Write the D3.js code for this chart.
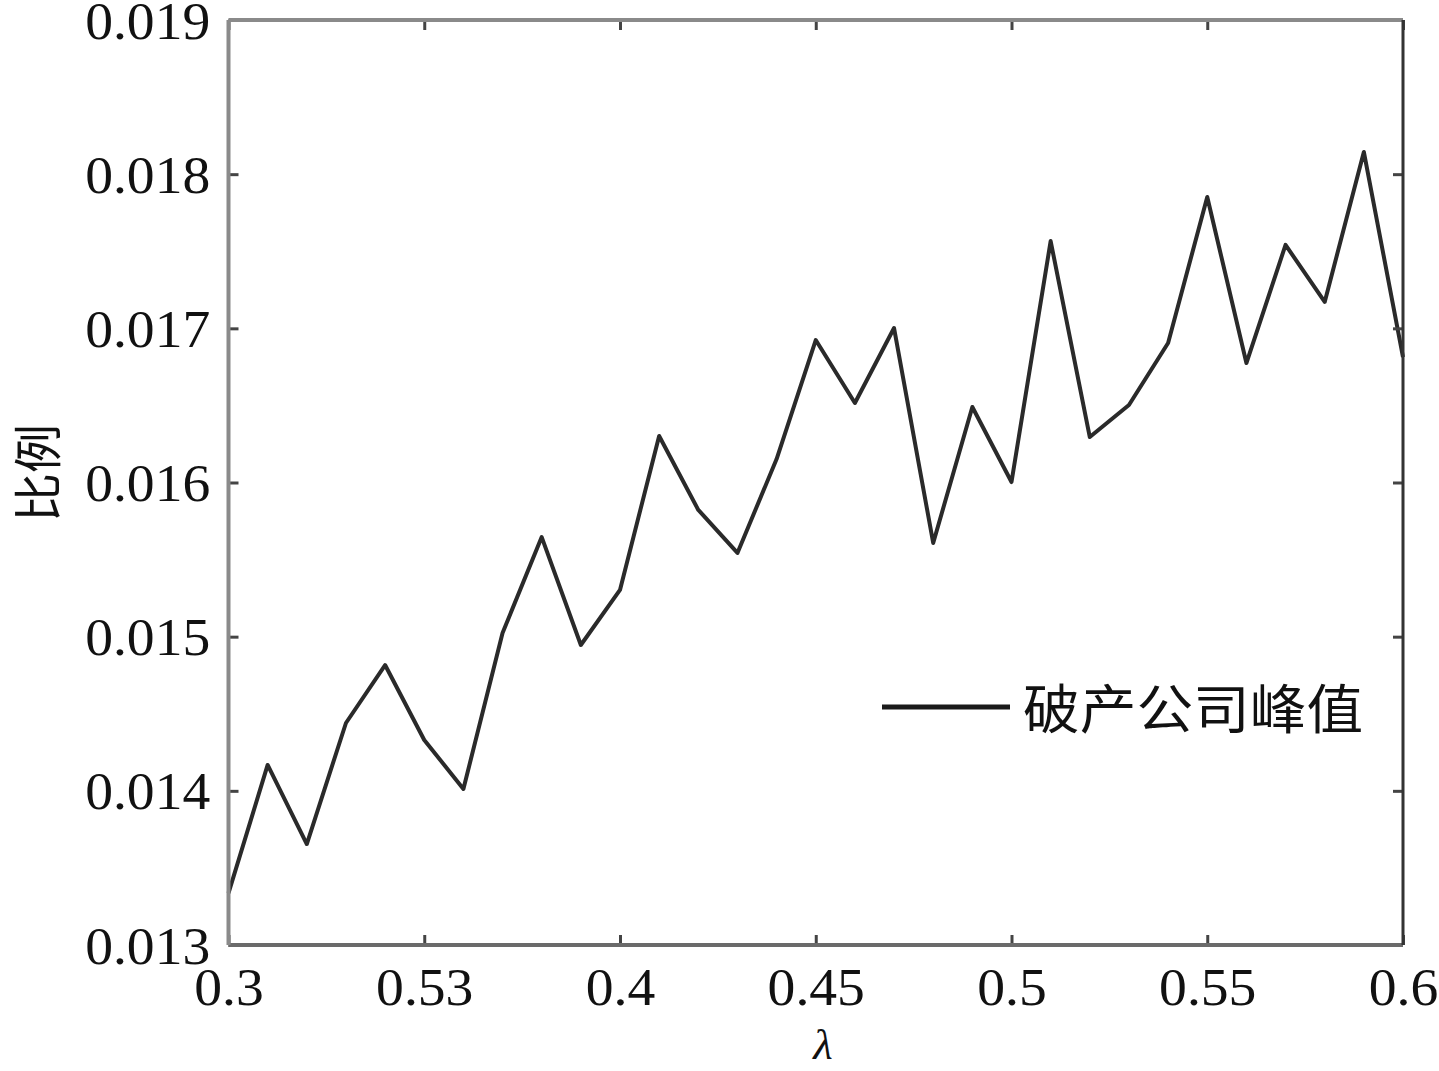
<!DOCTYPE html>
<html>
<head>
<meta charset="utf-8">
<script src="https://cdn.jsdelivr.net/npm/d3@7"></script>
<style>
  html, body { margin: 0; padding: 0; background: #fff; }
  svg { display: block; }
</style>
</head>
<body>
<svg id="chart" width="1439" height="1071"></svg>
<script>
// ---- data ----
const lambdaValues = [0.30, 0.31, 0.32, 0.33, 0.34, 0.35, 0.36, 0.37, 0.38, 0.39, 0.40,
                      0.41, 0.42, 0.43, 0.44, 0.45, 0.46, 0.47, 0.48, 0.49, 0.50,
                      0.51, 0.52, 0.53, 0.54, 0.55, 0.56, 0.57, 0.58, 0.59, 0.60];
const peakRatio = [0.013337, 0.014168, 0.013655, 0.014440, 0.014816, 0.014330, 0.014012,
                   0.015024, 0.015646, 0.014946, 0.015303, 0.016302, 0.015822, 0.015543,
                   0.016152, 0.016924, 0.016516, 0.017002, 0.015608, 0.016490, 0.016003,
                   0.017566, 0.016295, 0.016503, 0.016905, 0.017852, 0.016775, 0.017541,
                   0.017171, 0.018144, 0.016814];
const xTickValues = [0.30, 0.35, 0.40, 0.45, 0.50, 0.55, 0.60];
const xTickLabels = ["0.3", "0.53", "0.4", "0.45", "0.5", "0.55", "0.6"];
const yTickValues = [0.013, 0.014, 0.015, 0.016, 0.017, 0.018, 0.019];
const yTickLabels = ["0.013", "0.014", "0.015", "0.016", "0.017", "0.018", "0.019"];
const seriesName = "破产公司峰值";
const xAxisTitle = "λ";
const yAxisTitle = "比例";

// ---- layout ----
const svg = d3.select("#chart");
const pLeft = 228.5, pRight = 1403, pTop = 20, pBottom = 945;
const x = d3.scaleLinear().domain([0.3, 0.6]).range([pLeft, pRight]);
const y = d3.scaleLinear().domain([0.013, 0.019]).range([pBottom, pTop]);
const serif = "'Liberation Serif', 'DejaVu Serif', serif";
const stretch = "scale(1.07,1)";

// data line
const line = d3.line().x((d, i) => x(lambdaValues[i])).y(d => y(d));
svg.append("path")
  .datum(peakRatio)
  .attr("d", line)
  .attr("fill", "none")
  .attr("stroke", "#2a2a2a")
  .attr("stroke-width", 4)
  .attr("stroke-linejoin", "round");

// axes (ticks inward, on all sides)
function styleAxis(g) {
  g.select(".domain").remove();
  g.selectAll(".tick line").attr("stroke", "#444").attr("stroke-width", 3);
}
const gx = svg.append("g").attr("transform", `translate(0,${pBottom})`)
  .call(d3.axisBottom(x).tickValues(xTickValues).tickFormat((d, i) => xTickLabels[i])
        .tickSizeInner(-10).tickSizeOuter(0));
styleAxis(gx);
gx.selectAll(".tick text")
  .attr("y", 60).attr("dy", 0)
  .attr("font-family", serif).attr("font-size", 52).attr("fill", "#111")
  .attr("transform", stretch);

const gxt = svg.append("g").attr("transform", `translate(0,${pTop})`)
  .call(d3.axisTop(x).tickValues(xTickValues).tickFormat("").tickSizeInner(-10).tickSizeOuter(0));
styleAxis(gxt);

const gy = svg.append("g").attr("transform", `translate(${pLeft},0)`)
  .call(d3.axisLeft(y).tickValues(yTickValues).tickFormat((d, i) => yTickLabels[i])
        .tickSizeInner(-10).tickSizeOuter(0));
styleAxis(gy);
gy.selectAll(".tick text")
  .attr("x", -17).attr("dy", 0).attr("y", 18)
  .attr("font-family", serif).attr("font-size", 52).attr("fill", "#111")
  .attr("transform", stretch);

const gyr = svg.append("g").attr("transform", `translate(${pRight},0)`)
  .call(d3.axisRight(y).tickValues(yTickValues).tickFormat("").tickSizeInner(-10).tickSizeOuter(0));
styleAxis(gyr);

// frame
svg.append("line").attr("x1", pLeft).attr("x2", pRight).attr("y1", pTop).attr("y2", pTop)
  .attr("stroke", "#8a8a8a").attr("stroke-width", 4);
svg.append("line").attr("x1", pLeft).attr("x2", pRight).attr("y1", pBottom).attr("y2", pBottom)
  .attr("stroke", "#6a6a6a").attr("stroke-width", 4);
svg.append("line").attr("x1", pLeft).attr("x2", pLeft).attr("y1", pTop).attr("y2", pBottom)
  .attr("stroke", "#8a8a8a").attr("stroke-width", 4);
svg.append("line").attr("x1", pRight).attr("x2", pRight).attr("y1", pTop).attr("y2", pBottom)
  .attr("stroke", "#333").attr("stroke-width", 3);

// axis titles
svg.append("text")
  .attr("x", 823 / 1.07).attr("y", 1059)
  .attr("transform", stretch)
  .attr("text-anchor", "middle")
  .attr("font-family", serif).attr("font-style", "italic").attr("font-size", 42)
  .attr("fill", "#111")
  .text(xAxisTitle);

svg.append("text")
  .attr("transform", "translate(34,473) rotate(-90)")
  .attr("text-anchor", "middle").attr("dominant-baseline", "central")
  .attr("font-family", "'Noto Sans CJK SC', sans-serif").attr("font-size", 49)
  .attr("fill", "#111")
  .text(yAxisTitle);

// legend
svg.append("line").attr("x1", 882).attr("x2", 1010).attr("y1", 707).attr("y2", 707)
  .attr("stroke", "#1a1a1a").attr("stroke-width", 5);
svg.append("text")
  .attr("x", 1023 / 1.07).attr("y", 706)
  .attr("transform", stretch)
  .attr("dominant-baseline", "central")
  .attr("font-family", "'Noto Sans CJK SC', sans-serif").attr("font-size", 53)
  .attr("fill", "#111")
  .text(seriesName);
</script>
</body>
</html>
